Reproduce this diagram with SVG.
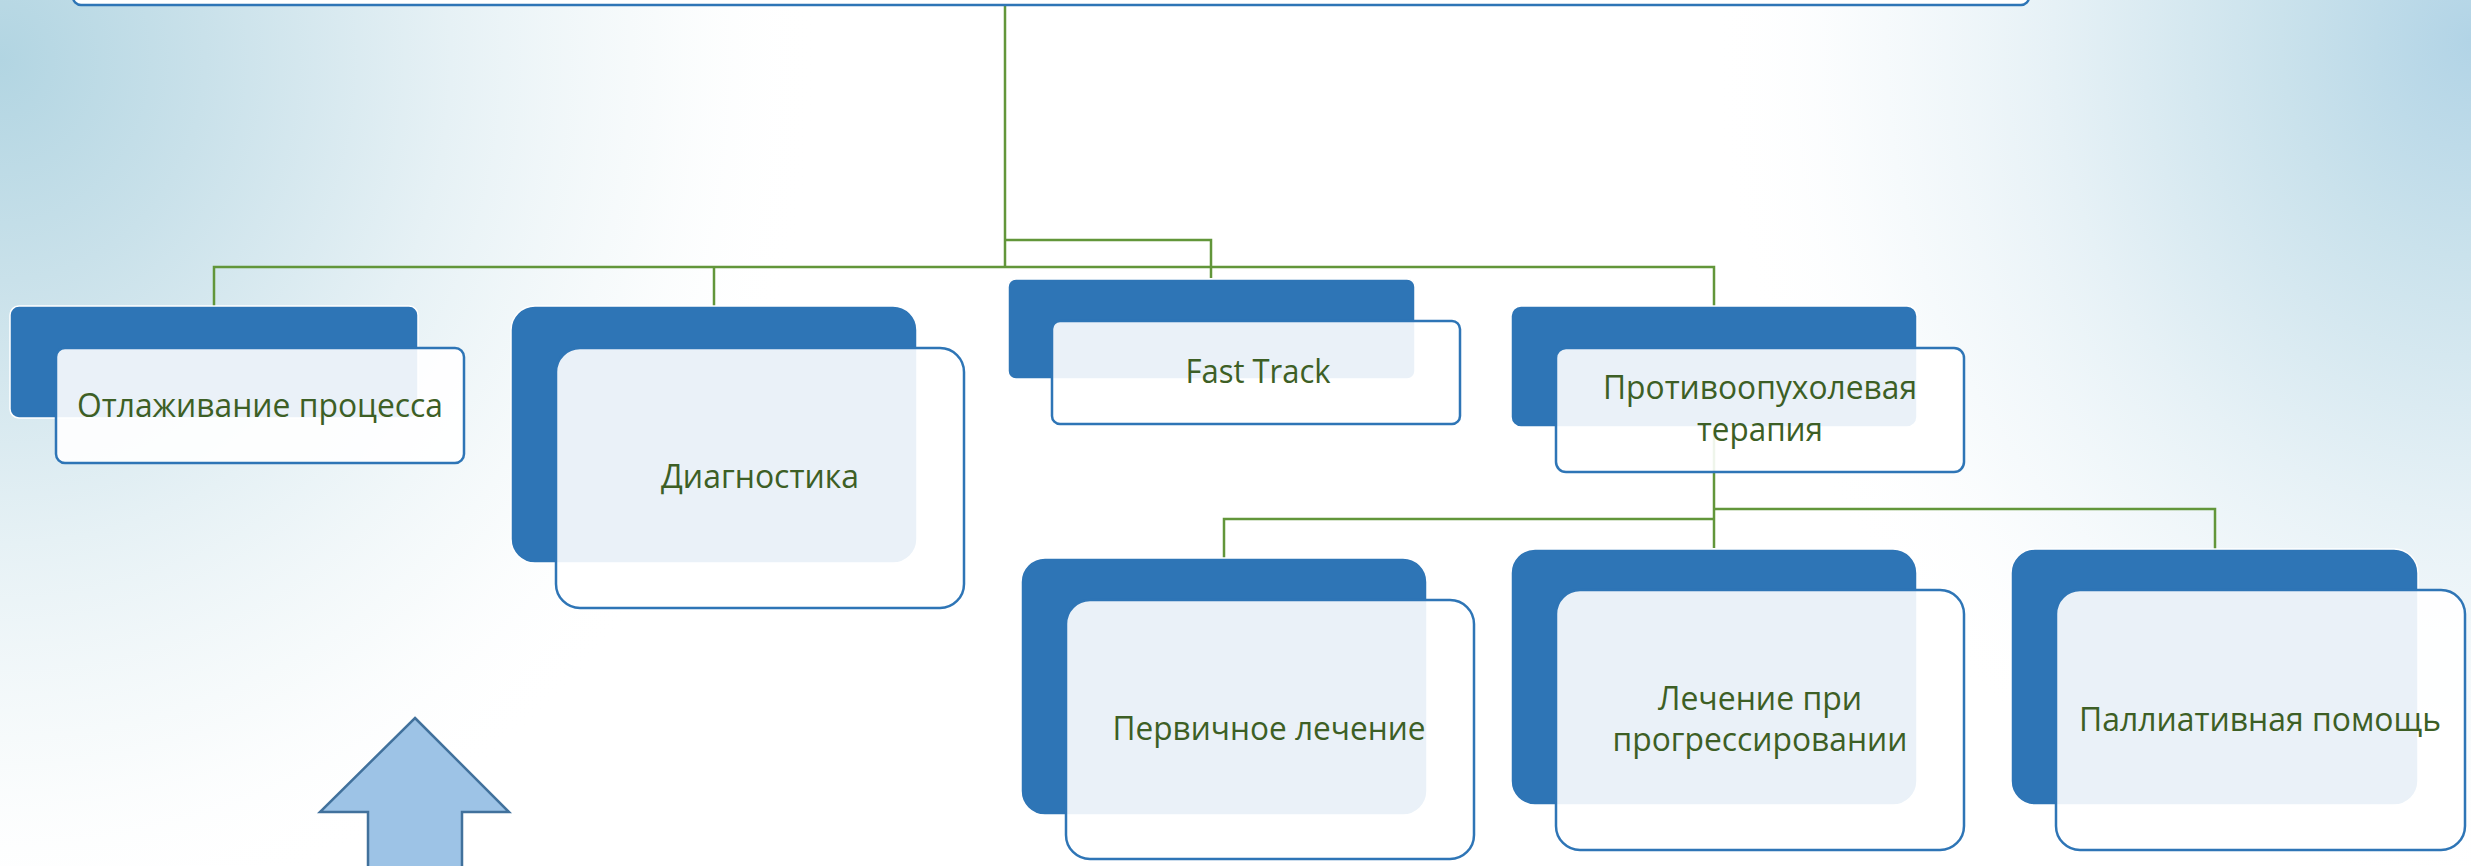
<svg xmlns="http://www.w3.org/2000/svg" width="2471" height="866" viewBox="0 0 2471 866">
<defs>
<radialGradient id="bgL" cx="0" cy="0" r="1" gradientUnits="userSpaceOnUse" gradientTransform="translate(0,60) scale(820,880)">
<stop offset="0" stop-color="#B2D5E2"/>
<stop offset="0.25" stop-color="#C9E1EA"/>
<stop offset="0.55" stop-color="#E6F1F5"/>
<stop offset="0.8" stop-color="#F6FAFB" stop-opacity="0.8"/>
<stop offset="1" stop-color="#FFFFFF" stop-opacity="0"/>
</radialGradient>
<radialGradient id="bgR" cx="0" cy="0" r="1" gradientUnits="userSpaceOnUse" gradientTransform="translate(2471,40) scale(760,860)">
<stop offset="0" stop-color="#B2D4E6"/>
<stop offset="0.25" stop-color="#CAE2EC"/>
<stop offset="0.55" stop-color="#E6F1F6"/>
<stop offset="0.8" stop-color="#F6FAFC" stop-opacity="0.8"/>
<stop offset="1" stop-color="#FFFFFF" stop-opacity="0"/>
</radialGradient>
<style>
.back{fill:#2E75B6;stroke:#FFFFFF;stroke-width:1.5}
.front{fill:#FFFFFF;fill-opacity:0.9;stroke:#2E75B6;stroke-width:2.5}
.lbl{font-family:"Open Sans","Noto Sans","Liberation Sans",sans-serif;font-size:33px;fill:#3D5F25;text-anchor:middle}
.conn{fill:none;stroke:#62963A;stroke-width:2.5}
</style>
</defs>
<rect x="0" y="0" width="2471" height="866" fill="#FFFFFF"/>
<rect x="0" y="0" width="2471" height="866" fill="url(#bgL)"/>
<rect x="0" y="0" width="2471" height="866" fill="url(#bgR)"/>

<g id="connectors">
<path class="conn" d="M1005,5 V267"/>
<path class="conn" d="M214,306 V267 H1714 V306"/>
<path class="conn" d="M714,267 V306"/>
<path class="conn" d="M1005,240 H1211 V278"/>
<path class="conn" d="M1714,427 V548"/>
<path class="conn" d="M1714,519 H1224 V558"/>
<path class="conn" d="M1714,509 H2215 V549"/>
</g>

<g id="top">
<rect x="73" y="-40" width="1956" height="45" rx="8" fill="#FFFFFF" stroke="#2E75B6" stroke-width="2.5"/>
</g>

<g id="n1">
<rect class="back" x="10" y="306" width="408" height="112" rx="9"/>
<rect class="front" x="56" y="348" width="408" height="115" rx="9"/>
<text class="lbl" x="260" y="417" textLength="366" lengthAdjust="spacingAndGlyphs">Отлаживание процесса</text>
</g>

<g id="n2">
<rect class="back" x="511" y="306" width="406" height="257" rx="24"/>
<rect class="front" x="556" y="348" width="408" height="260" rx="24"/>
<text class="lbl" x="760" y="488" textLength="198" lengthAdjust="spacingAndGlyphs">Диагностика</text>
</g>

<g id="n3">
<rect class="back" x="1008" y="279" width="407" height="100" rx="8"/>
<rect class="front" x="1052" y="321" width="408" height="103" rx="8"/>
<text class="lbl" x="1258" y="383" textLength="145" lengthAdjust="spacingAndGlyphs">Fast Track</text>
</g>

<g id="n4">
<rect class="back" x="1511" y="306" width="406" height="121" rx="10"/>
<rect class="front" x="1556" y="348" width="408" height="124" rx="10"/>
<text class="lbl" x="1760" y="399" textLength="314" lengthAdjust="spacingAndGlyphs">Противоопухолевая</text>
<text class="lbl" x="1760" y="441" textLength="126" lengthAdjust="spacingAndGlyphs">терапия</text>
</g>

<g id="n5">
<rect class="back" x="1021" y="558" width="406" height="257" rx="24"/>
<rect class="front" x="1066" y="600" width="408" height="259" rx="24"/>
<text class="lbl" x="1269" y="740" textLength="313" lengthAdjust="spacingAndGlyphs">Первичное лечение</text>
</g>

<g id="n6">
<rect class="back" x="1511" y="549" width="406" height="256" rx="24"/>
<rect class="front" x="1556" y="590" width="408" height="260" rx="24"/>
<text class="lbl" x="1760" y="710" textLength="204" lengthAdjust="spacingAndGlyphs">Лечение при</text>
<text class="lbl" x="1760" y="751" textLength="295" lengthAdjust="spacingAndGlyphs">прогрессировании</text>
</g>

<g id="n7">
<rect class="back" x="2011" y="549" width="407" height="256" rx="24"/>
<rect class="front" x="2056" y="590" width="409" height="260" rx="24"/>
<text class="lbl" x="2260" y="731" textLength="362" lengthAdjust="spacingAndGlyphs">Паллиативная помощь</text>
</g>

<g id="arrow">
<path d="M415,718 L509,812 H462 V880 H368 V812 H320 Z" fill="#9DC3E6" stroke="#41719C" stroke-width="2.5" stroke-linejoin="miter"/>
</g>
</svg>
